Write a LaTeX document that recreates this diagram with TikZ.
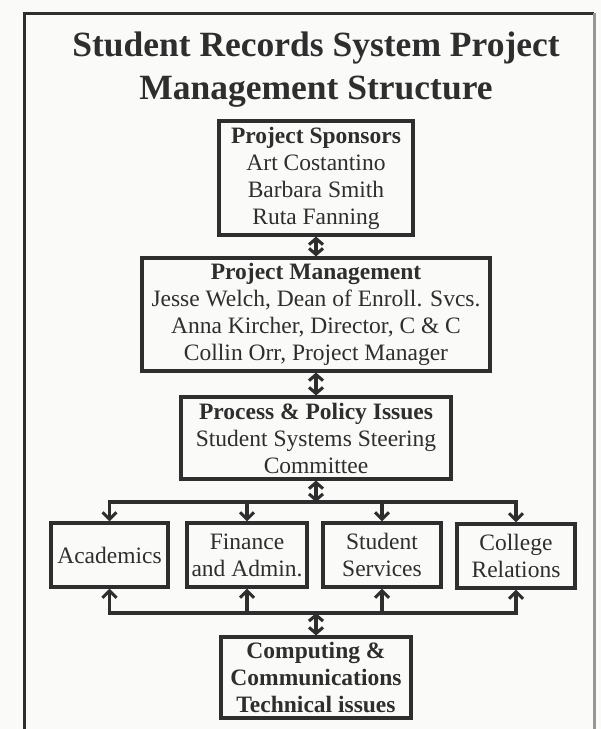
\documentclass[tikz,border=0pt]{standalone}
\usepackage{fontspec}
\setmainfont{Liberation Serif}
\usetikzlibrary{arrows.meta}
\definecolor{ink}{HTML}{2E2E2E}
\definecolor{paper}{HTML}{FAFAF8}
\begin{document}
\begin{tikzpicture}[x=1pt,y=-1pt,
  frame/.style={draw=ink, line width=3pt},
  box/.style={draw=ink, line width=3.1pt, text=ink, align=center, inner sep=0pt,
    font=\fontsize{23.5}{27}\selectfont},
  titletext/.style={text=ink, align=center, inner sep=0pt,
    font=\fontsize{35.5}{43}\selectfont\bfseries},
  link/.style={draw=ink, line width=3.3pt},
  tip/.style={-{Straight Barb[length=7pt,width=14pt,line width=3.1pt]}},
  dbl/.style={{Straight Barb[length=6pt,width=14pt,line width=3.1pt]}-{Straight Barb[length=6pt,width=14pt,line width=3.1pt]}}
]
% page and outer frame
\fill[paper] (0,0) rectangle (601,729);
\useasboundingbox (0,0) rectangle (601,729);
\draw[frame] (24,729) -- (24,13) -- (594,13);
\draw[frame, draw=ink!50] (594,13) -- (594,729);

% heading
\node[titletext] (title) at (316,70) {Student Records System Project\\Management Structure};

% hierarchy boxes
\node[box, minimum width=194pt, minimum height=114pt] (spons) at (316,178)
  {\textbf{Project Sponsors}\\Art Costantino\\Barbara Smith\\Ruta Fanning};
\node[box, minimum width=348pt, minimum height=113pt] (mgmt) at (316,314.5)
  {\textbf{Project Management}\\Jesse Welch, Dean of Enroll. Svcs.\\Anna Kircher, Director, C \& C\\Collin Orr, Project Manager};
\node[box, minimum width=270pt, minimum height=82pt] (proc) at (316,438)
  {\textbf{Process \& Policy Issues}\\Student Systems Steering\\Committee};

% working areas
\node[box, minimum width=117pt, minimum height=64pt] (acad) at (109.5,555) {Academics};
\node[box, minimum width=120pt, minimum height=64pt] (fin) at (247,555) {Finance\\and Admin.};
\node[box, minimum width=118pt, minimum height=64pt] (serv) at (382,555) {Student\\Services};
\node[box, minimum width=118pt, minimum height=64pt] (rel) at (516,556) {College\\Relations};

% technical support
\node[box, minimum width=190pt, minimum height=81pt] (comp) at (316,677.5)
  {\textbf{Computing \&}\\\textbf{Communications}\\\textbf{Technical issues}};

% bus junctions
\coordinate (topbus) at (316,502);
\coordinate (botbus) at (316,613);

% vertical links
\draw[link, dbl] (spons.south) -- (mgmt.north);
\draw[link, dbl] (mgmt.south) -- (proc.north);
\draw[link, dbl] (proc.south) -- (topbus);
\draw[link, dbl] (botbus) -- (comp.north);

% distribution bus above the working areas
\draw[link, tip] (rel.north |- topbus) -| (acad.north);
\draw[link, tip] (acad.north |- topbus) -| (rel.north);
\draw[link, tip] (fin.north |- topbus) -- (fin.north);
\draw[link, tip] (serv.north |- topbus) -- (serv.north);

% feedback bus below the working areas
\draw[link, tip] (rel.south |- botbus) -| (acad.south);
\draw[link, tip] (acad.south |- botbus) -| (rel.south);
\draw[link, tip] (fin.south |- botbus) -- (fin.south);
\draw[link, tip] (serv.south |- botbus) -- (serv.south);
\end{tikzpicture}
\end{document}
